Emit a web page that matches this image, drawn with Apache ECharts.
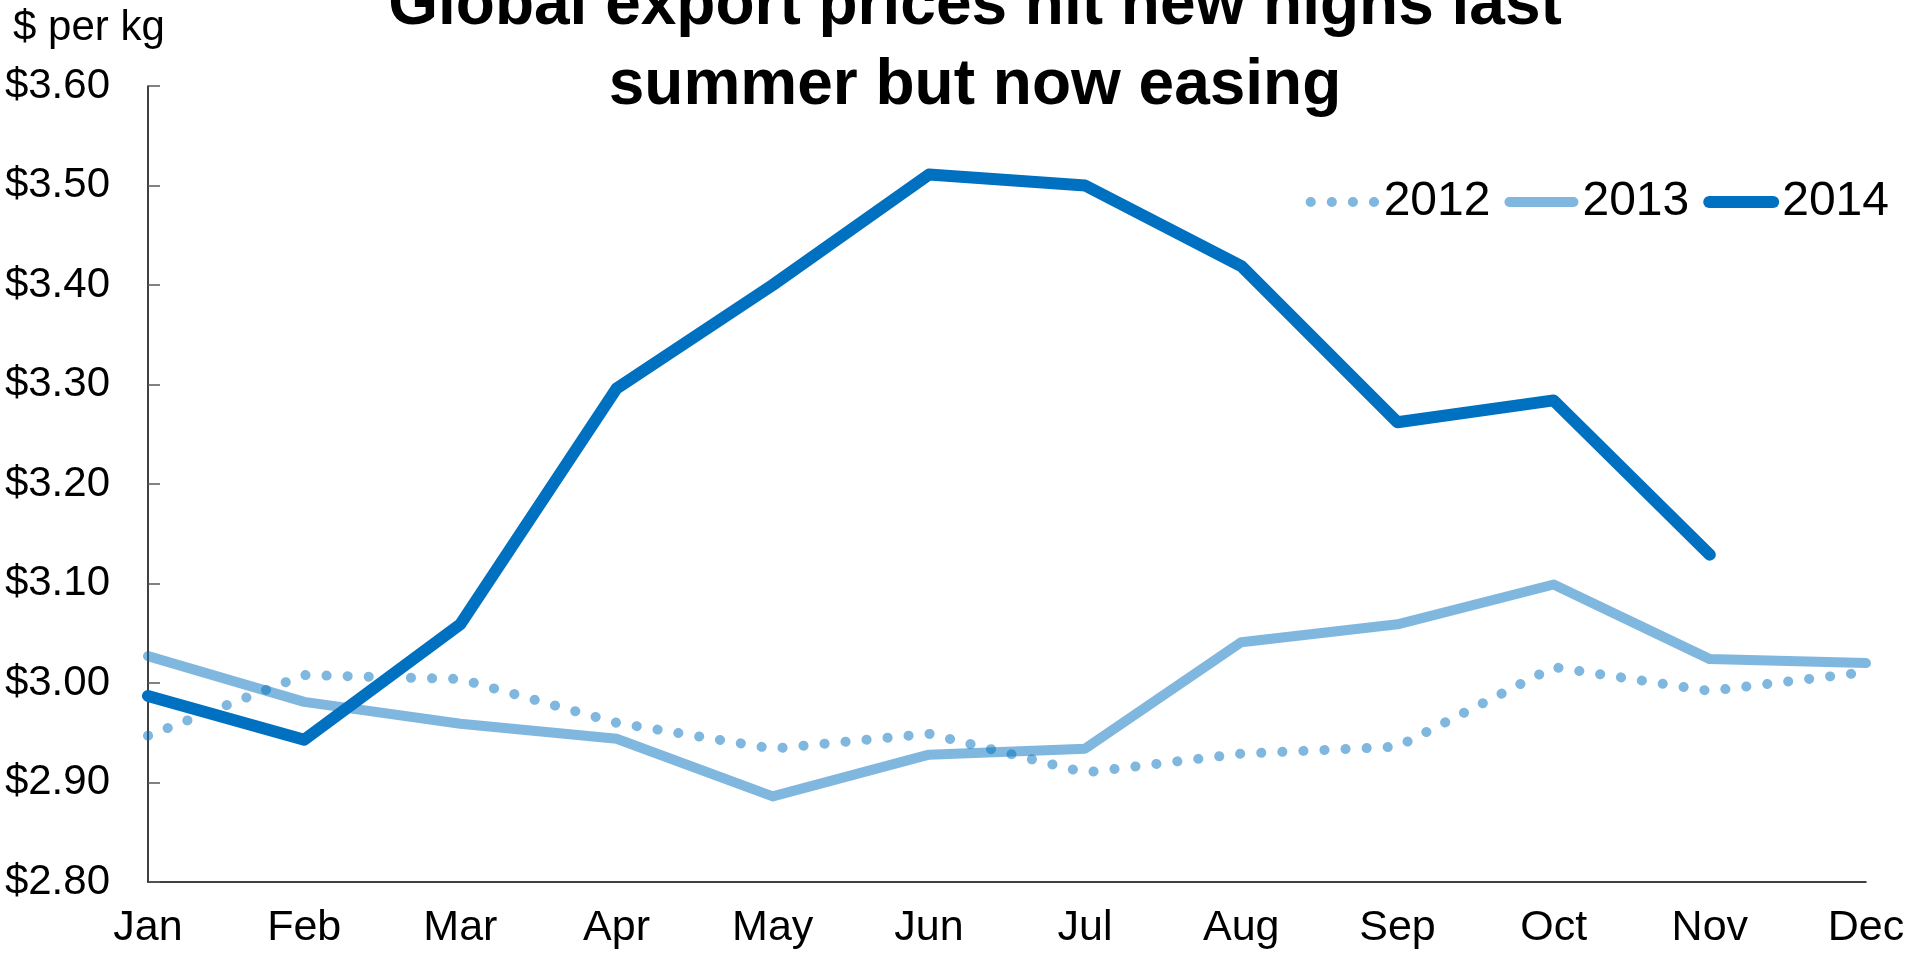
<!DOCTYPE html>
<html>
<head>
<meta charset="utf-8">
<title>Global export prices</title>
<script src="https://cdn.jsdelivr.net/npm/echarts@6/dist/echarts.min.js"></script>
<style>
  html, body { margin: 0; padding: 0; background: #ffffff; }
  #chart { width: 1915px; height: 954px; }
</style>
</head>
<body>
<div id="chart"></div>
<script>
// Monthly export price, $ per kg
const months = ['Jan', 'Feb', 'Mar', 'Apr', 'May', 'Jun', 'Jul', 'Aug', 'Sep', 'Oct', 'Nov', 'Dec'];
const prices2012 = [2.947, 3.008, 3.004, 2.960, 2.934, 2.949, 2.910, 2.929, 2.936, 3.016, 2.992, 3.011];
const prices2013 = [3.027, 2.981, 2.959, 2.944, 2.886, 2.928, 2.934, 3.041, 3.059, 3.099, 3.024, 3.020];
const prices2014 = [2.987, 2.943, 3.059, 3.296, 3.400, 3.511, 3.500, 3.419, 3.262, 3.284, 3.129, null];
const yTicks = { min: 2.8, max: 3.6, step: 0.1 };

const FONT = '"Liberation Sans", Arial, Helvetica, sans-serif';
const DARK = '#0070C0';
const LIGHT = 'rgba(0,112,192,0.5)';

const chart = echarts.init(document.getElementById('chart'), null, { renderer: 'canvas' });

chart.setOption({
  animation: false,
  backgroundColor: '#ffffff',
  graphic: [
    {
      type: 'text',
      x: 975,
      y: -34,
      style: {
        text: 'Global export prices hit new highs last\nsummer but now easing',
        font: 'bold 64px ' + FONT,
        fill: '#000000',
        textAlign: 'center',
        textVerticalAlign: 'top',
        lineHeight: 80
      }
    },
    {
      type: 'text',
      x: 13,
      y: 28,
      style: {
        text: '$ per kg',
        font: '42px ' + FONT,
        fill: '#000000',
        textAlign: 'left',
        textVerticalAlign: 'middle'
      }
    }
  ],
  legend: {
    right: 26,
    top: 178,
    padding: 0,
    itemWidth: 64,
    itemHeight: 14,
    itemGap: 14,
    data: ['2012', '2013', '2014'],
    itemStyle: { opacity: 0 },
    lineStyle: { width: 'inherit', cap: 'round' },
    textStyle: { fontFamily: FONT, fontSize: 48, color: '#000000', padding: [0, 0, 0, 4] }
  },
  grid: { left: 148, right: 49, top: 86, bottom: 72, containLabel: false },
  xAxis: {
    type: 'category',
    data: months,
    boundaryGap: false,
    axisLine: { show: true, lineStyle: { color: '#000000', width: 1.5 } },
    axisTick: { show: false },
    axisLabel: { margin: 25, fontFamily: FONT, fontSize: 43, color: '#000000' },
    splitLine: { show: false }
  },
  yAxis: {
    type: 'value',
    min: yTicks.min,
    max: yTicks.max,
    interval: yTicks.step,
    axisLine: { show: true, lineStyle: { color: '#000000', width: 1.5 } },
    axisTick: { show: true, inside: true, length: 12, lineStyle: { color: '#595959', width: 1.5 } },
    axisLabel: {
      margin: 38,
      fontFamily: FONT,
      fontSize: 42,
      color: '#000000',
      formatter: v => '$' + v.toFixed(2)
    },
    splitLine: { show: false }
  },
  series: [
    {
      name: '2012',
      type: 'line',
      data: prices2012,
      symbol: 'none',
      color: LIGHT,
      lineStyle: { color: LIGHT, width: 10, type: [0.1, 21], cap: 'round' }
    },
    {
      name: '2013',
      type: 'line',
      data: prices2013,
      symbol: 'none',
      color: LIGHT,
      lineStyle: { color: LIGHT, width: 10, cap: 'round', join: 'round' }
    },
    {
      name: '2014',
      type: 'line',
      data: prices2014,
      symbol: 'none',
      color: DARK,
      lineStyle: { color: DARK, width: 12, cap: 'round', join: 'round' }
    }
  ]
});
</script>
</body>
</html>
